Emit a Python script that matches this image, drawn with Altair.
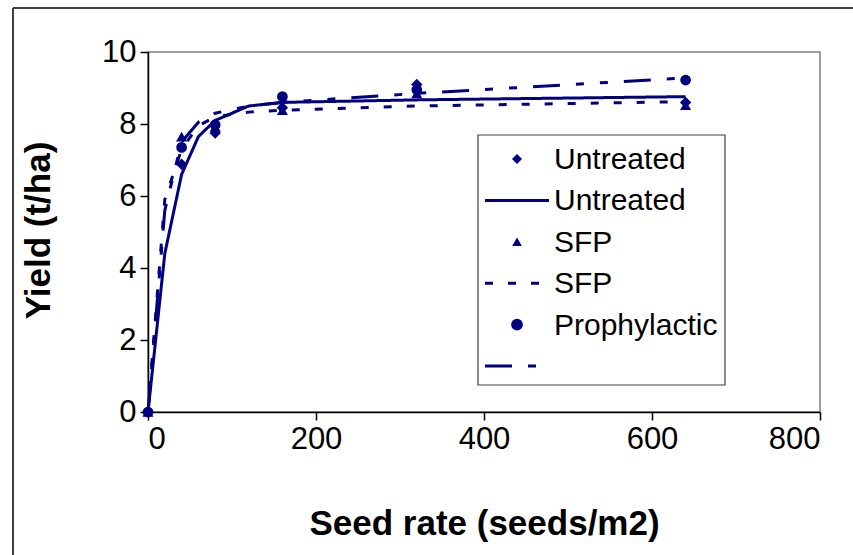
import altair as alt
import pandas as pd

# Fitted response curves (yield, t/ha) evaluated along the seed-rate axis
curve_rates = [0, 20, 40, 60, 80, 120, 160, 320, 640]
fit_untreated = [0, 4.4, 6.6, 7.65, 8.1, 8.5, 8.6, 8.67, 8.76]
fit_sfp = [0, 5.9, 7.3, 7.95, 8.2, 8.33, 8.38, 8.5, 8.62]
fit_prophylactic = [0, 5.6, 7.5, 8.05, 8.3, 8.5, 8.6, 8.85, 9.28]

# Observed yields at each seed rate (seeds/m2)
seed_rates = [0, 40, 80, 160, 320, 640]
obs_untreated = [0, 6.88, 7.75, 8.45, 9.1, 8.6]
obs_sfp = [0, 7.65, 7.92, 8.38, 8.85, 8.52]
obs_prophylactic = [0, 7.35, 7.98, 8.76, 8.95, 9.22]

treatments = ["Untreated", "SFP", "Prophylactic"]
legend_labels = ["Untreated", "Untreated", "SFP", "SFP", "Prophylactic", ""]

NAVY = "#000080"
FONT = "Liberation Sans"

curves = pd.DataFrame({
    "rate": curve_rates * 3,
    "yield": fit_untreated + fit_sfp + fit_prophylactic,
    "treatment": sum([[t] * len(curve_rates) for t in treatments], []),
})
obs = pd.DataFrame({
    "rate": seed_rates * 3,
    "yield": obs_untreated + obs_sfp + obs_prophylactic,
    "treatment": sum([[t] * len(seed_rates) for t in treatments], []),
})

x_enc = alt.X("rate:Q", scale=alt.Scale(domain=[0, 800]),
              axis=alt.Axis(values=[0, 200, 400, 600, 800], title="Seed rate (seeds/m2)",
                            titleX=336, titleY=111, titleBaseline="middle", titleAlign="center"))
y_enc = alt.Y("yield:Q", scale=alt.Scale(domain=[0, 10]),
              axis=alt.Axis(values=[0, 2, 4, 6, 8, 10], title="Yield (t/ha)",
                            titleX=-110, titleY=178, titleAngle=-90,
                            titleBaseline="middle", titleAlign="center"))

dash_scale = alt.Scale(domain=treatments, range=[[1, 0], [8, 15], [27, 16, 8, 16, 8, 16]])
shape_scale = alt.Scale(domain=treatments, range=["diamond", "triangle-up", "circle"])
size_scale = alt.Scale(domain=treatments, range=[130, 115, 150])

lines = alt.Chart(curves).mark_line(color=NAVY, strokeWidth=3, clip=False).encode(
    x=x_enc, y=y_enc,
    detail="treatment:N",
    strokeDash=alt.StrokeDash("treatment:N", scale=dash_scale, legend=None),
)

points = alt.Chart(obs).mark_point(color=NAVY, filled=True, opacity=1, clip=False).encode(
    x="rate:Q", y="yield:Q",
    shape=alt.Shape("treatment:N", scale=shape_scale, legend=None),
    size=alt.Size("treatment:N", scale=size_scale, legend=None),
)

# Hand-built legend box
one = pd.DataFrame({"k": [0]})
legend_layers = [
    alt.Chart(one).mark_rect(fill="white", stroke="#404040", strokeWidth=1.2).encode(
        x=alt.value(330), x2=alt.value(577), y=alt.value(83), y2=alt.value(333))
]
row_y = [107 + 41.4 * i for i in range(len(legend_labels))]
marker_x, line_x0, line_x1, text_x = 369, 337, 401, 406
for i, lab in enumerate(legend_labels):
    if i % 2 == 0:
        legend_layers.append(
            alt.Chart(one).mark_point(color=NAVY, filled=True, opacity=1,
                                      shape=["diamond", "triangle-up", "circle"][i // 2],
                                      size=[100, 95, 140][i // 2]).encode(
                x=alt.value(marker_x), y=alt.value(row_y[i])))
    else:
        legend_layers.append(
            alt.Chart(one).mark_rule(color=NAVY, strokeWidth=3,
                                     strokeDash=[[1, 0], [8, 15], [27, 16, 8, 16]][i // 2]).encode(
                x=alt.value(line_x0), x2=alt.value(line_x1), y=alt.value(row_y[i])))
    if lab:
        legend_layers.append(
            alt.Chart(one).mark_text(text=lab, align="left", baseline="middle", font=FONT,
                                     fontSize=30, color="black").encode(
                x=alt.value(text_x), y=alt.value(row_y[i] + 1)))

# Outer frame of the figure
frame = [
    alt.Chart(one).mark_rule(color="#404040", strokeWidth=2).encode(
        x=alt.value(-135), y=alt.value(-44), y2=alt.value(520)),
    alt.Chart(one).mark_rule(color="#404040", strokeWidth=2).encode(
        x=alt.value(-135), x2=alt.value(720), y=alt.value(-44)),
]

chart = alt.layer(lines, points, *legend_layers, *frame).properties(
    width=672, height=360,
    padding={"left": 148, "top": 52, "right": 33, "bottom": 143},
    autosize="none",
    background="white",
).configure_view(
    stroke="#808080", strokeWidth=1.5,
).configure_axis(
    grid=False, domainColor="black", domainWidth=1.5, tickColor="black", tickWidth=1.5,
    tickSize=8, labelFont=FONT, labelFontSize=31, labelColor="black", labelPadding=4,
    titleFont=FONT, titleFontSize=35, titleFontWeight="bold", titleColor="black",
)

chart.save("out.html", embed_options={"renderer": "svg", "actions": False})
